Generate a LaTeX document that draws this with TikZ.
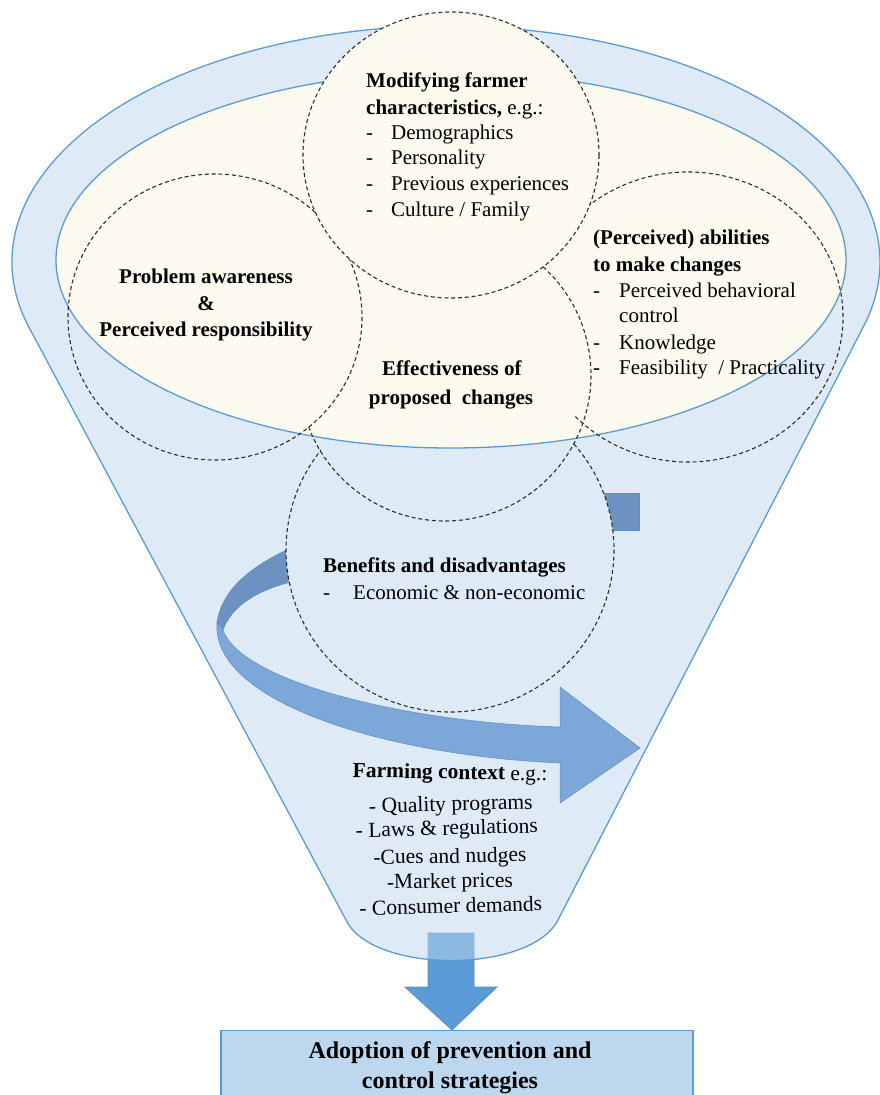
\documentclass[tikz,border=0pt]{standalone}
\usepackage{fontspec}
\setmainfont{Liberation Serif}
\usepackage{graphicx}
\usetikzlibrary{calc}
\definecolor{funnelfill}{HTML}{BDD7EE}
\definecolor{funnelline}{HTML}{5B9BD5}
\definecolor{creamfill}{HTML}{FDFBEF}
\definecolor{ringblue}{HTML}{DEEBF6}
\definecolor{arrowdark}{HTML}{6B92C1}
\definecolor{arrowlight}{HTML}{7EA7D9}
\definecolor{arrowedge}{HTML}{5F8CC0}
\definecolor{arrowdown}{HTML}{5B9BD5}
\definecolor{boxfill}{HTML}{BDD7EE}
\definecolor{dashgray}{HTML}{2E2E2E}
\newcommand{\dsh}[2]{\makebox[#1][l]{-}#2}
\begin{document}
\begin{tikzpicture}[x=1pt,y=-1pt,
  dashedc/.style={draw=dashgray, line width=1.1pt, dash pattern=on 4pt off 2.8pt},
  outline/.style={draw=funnelline, line width=1.3pt},
  ctxt/.style={inner sep=0pt, font=\fontsize{21}{25}\selectfont},
  lt/.style={ctxt, anchor=base west},
  ct/.style={ctxt, anchor=base},
  ft/.style={inner sep=0pt, anchor=base, font=\fontsize{21.5}{26}\selectfont},
  bt/.style={inner sep=0pt, anchor=base, font=\fontsize{24}{28}\selectfont\bfseries},
  boxst/.style={draw=funnelline, line width=1.2pt, fill=boxfill, minimum width=472pt, minimum height=90pt, anchor=north, inner sep=0pt}
]
\useasboundingbox (0,0) rectangle (880,1095);
\clip (0,0) rectangle (880,1095);

% down arrow towards the box
\node[boxst] (box) at (457,1030) {};
\coordinate (tip) at (452,1030);
\draw[fill=arrowdown, draw=arrowedge, line width=0.8pt] (428,933) -- (474,933) -- (474,987) -- (497,987) -- (tip) -- (405,987) -- (428,987) -- cycle;

% funnel body
\def\funnelpath{($(446,262)+(164.1:434 and 236)$) arc[start angle=164.1, end angle=375.7, x radius=434, y radius=236] -- (558,920) .. controls (530,974) and (372,974) .. (346,920) -- cycle}
\path[fill=funnelfill, fill opacity=0.5] \funnelpath;
\draw[outline] \funnelpath;

% curved arrow
\draw[fill=arrowdark, draw=arrowedge, line width=0.5pt] (300,544) .. controls (250,565) and (222,590) .. (217,622) -- (223,630) .. controls (232,605) and (260,588) .. (300,580) -- cycle;
\draw[fill=arrowdark, draw=arrowedge, line width=0.5pt] (595,493) rectangle (639,530);
\draw[fill=arrowlight, draw=arrowedge, line width=0.5pt] (217,622) .. controls (210,700) and (380,755) .. (560,763) -- (560,803) -- (640,748) -- (560,687) -- (560,727) .. controls (400,722) and (240,680) .. (223,630) -- cycle;

% bottom circle fill (hides the back of the arrow)
\fill[ringblue] (450,550) ellipse [x radius=164, y radius=162];

% inner rim of the funnel
\draw[outline, fill=creamfill] (451,260) ellipse [x radius=395, y radius=188];

% dashed circles
\draw[dashedc] ($(450,550)+(-40.9:164 and 162)$) arc[start angle=-40.9, end angle=218.1, x radius=164, y radius=162];
\draw[dashedc] ($(445,375)+(-47.8:146 and 146)$) arc[start angle=-47.8, end angle=159, x radius=146, y radius=146];
\draw[dashedc] (215,317) ellipse [x radius=147, y radius=143];
\draw[dashedc] ($(688,317)+(-159.3:155 and 145)$) arc[start angle=-159.3, end angle=137.4, x radius=155, y radius=145];
\draw[dashedc, fill=creamfill] (451,155) ellipse [x radius=148, y radius=143];

% top circle text
\node[lt] (m1) at (366,87) {\textbf{Modifying farmer}};
\node[lt] (m2) at (366,114) {\textbf{characteristics,} e.g.:};
\node[lt] (m3) at (366,139) {\dsh{25pt}{Demographics}};
\node[lt] (m4) at (366,164) {\dsh{25pt}{Personality}};
\node[lt] (m5) at (366,190) {\dsh{25pt}{Previous experiences}};
\node[lt] (m6) at (366,216) {\dsh{25pt}{Culture / Family}};

% left circle text
\node[ct] (p1) at (206,283) {\textbf{Problem awareness}};
\node[ct] (p2) at (206,310) {\textbf{\&}};
\node[ct] (p3) at (206,336) {\textbf{Perceived responsibility}};

% right circle text
\node[lt] (a1) at (593,244) {\textbf{(Perceived) abilities}};
\node[lt] (a2) at (593,271) {\textbf{to make changes}};
\node[lt] (a3) at (593,297) {\dsh{26pt}{Perceived behavioral}};
\node[lt] (a4) at (619,322) {control};
\node[lt] (a5) at (593,349) {\dsh{26pt}{Knowledge}};
\node[lt] (a6) at (593,374) {\dsh{26pt}{Feasibility~ / Practicality}};

% centre text
\node[ct] (e1) at (452,375) {\textbf{Effectiveness of}};
\node[ct] (e2) at (451,404) {\textbf{proposed~ changes}};

% bottom circle text
\node[lt] (b1) at (323,572) {\textbf{Benefits and disadvantages}};
\node[lt] (b2) at (323,599) {\dsh{30pt}{Economic \& non-economic}};

% farming context
\node[ft, rotate=-1] (f1) at (450,779) {\textbf{Farming context} e.g.:};
\node[ft, rotate=1.5] (f2) at (451,811) {- Quality programs};
\node[ft, rotate=1.5] (f3) at (447,835) {- Laws \& regulations};
\node[ft, rotate=1] (f4) at (450,863) {-Cues and nudges};
\node[ft, rotate=1] (f5) at (450,888) {-Market prices};
\node[ft, rotate=1.5] (f6) at (451,913) {- Consumer demands};

% box text
\node[bt] (o1) at (450,1058) {Adoption of prevention and};
\node[bt] (o2) at (450,1088) {control strategies};
\end{tikzpicture}
\end{document}
